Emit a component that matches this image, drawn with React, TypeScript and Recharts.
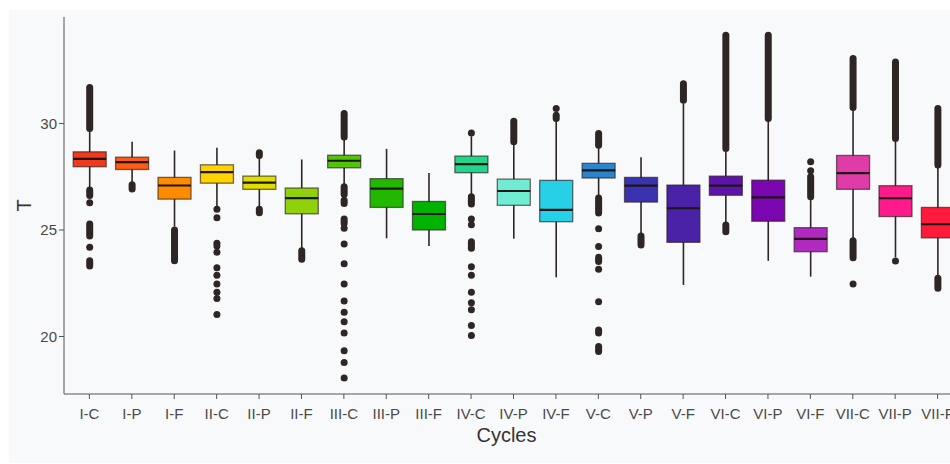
import React from 'react';
import { ComposedChart, Bar, XAxis, YAxis } from 'recharts';

const cycles = [
  'I-C', 'I-P', 'I-F', 'II-C', 'II-P', 'II-F', 'III-C', 'III-P', 'III-F', 'IV-C', 'IV-P',
  'IV-F', 'V-C', 'V-P', 'V-F', 'VI-C', 'VI-P', 'VI-F', 'VII-C', 'VII-P', 'VII-F',
];

const boxColors = [
  '#f2391b', '#ff5b12', '#ff8c00', '#ffd300', '#e0dd00', '#8fd10a', '#52c40a', '#22b800',
  '#00b300', '#20d68a', '#70ecd2', '#26d0e6', '#2a85cc', '#3a32b0', '#4a22a8', '#5e14aa',
  '#7a06b0', '#b02ac0', '#e03ca8', '#ff1a8c', '#ff1a3c',
];

const q1 = [
  27.97, 27.84, 26.45, 27.2, 26.91, 25.76, 27.92, 26.06, 25.0, 27.69, 26.16,
  25.39, 27.44, 26.31, 24.42, 26.63, 25.41, 23.98, 26.91, 25.63, 24.63,
];
const median = [
  28.34, 28.19, 27.09, 27.72, 27.22, 26.5, 28.25, 26.94, 25.75, 28.09, 26.83,
  25.94, 27.8, 27.08, 26.02, 27.08, 26.53, 24.58, 27.67, 26.49, 25.27,
];
const q3 = [
  28.67, 28.42, 27.47, 28.06, 27.53, 26.97, 28.51, 27.41, 26.34, 28.47, 27.39,
  27.33, 28.13, 27.47, 27.11, 27.53, 27.34, 25.11, 28.5, 27.08, 26.06,
];
const whiskerLow = [
  26.95, 27.2, 25.16, 26.1, 26.1, 24.14, 27.08, 24.61, 24.25, 26.64, 24.59,
  22.78, 26.56, 24.85, 22.42, 25.34, 23.55, 22.81, 24.56, 23.72, 22.81,
];
const whiskerHigh = [
  29.7, 29.14, 28.73, 28.86, 28.38, 28.31, 29.3, 28.81, 27.67, 29.4, 29.06,
  30.1, 28.95, 28.41, 30.94, 28.67, 30.15, 26.49, 30.62, 29.14, 27.97,
];

// single outliers
const outlierPoints: number[][] = [
  [26.28, 24.19],
  [],
  [],
  [25.97, 25.58, 24.38, 24.25, 23.96, 23.23, 22.88, 22.46, 22.08, 21.78, 21.03],
  [],
  [],
  [25.08, 24.34, 23.41, 22.46, 21.67, 21.14, 20.69, 20.16, 19.33, 18.78, 18.05],
  [],
  [],
  [29.55, 25.52, 25.25, 23.28, 22.88, 22.08, 21.58, 21.25, 20.52, 20.05],
  [],
  [30.7],
  [25.06, 24.22, 23.16, 21.63],
  [],
  [],
  [],
  [],
  [27.78, 28.2],
  [22.46],
  [23.55],
  [],
];

// dense outlier columns, [low, high]
const outlierRuns: [number, number][][] = [
  [[29.77, 31.69], [26.62, 26.88], [24.72, 25.28], [23.31, 23.56]],
  [[26.92, 27.12]],
  [[23.56, 25.0]],
  [],
  [[28.5, 28.63], [25.81, 25.97]],
  [[23.63, 24.03]],
  [[29.37, 30.47], [26.68, 27.03], [26.24, 26.4], [25.3, 25.52]],
  [],
  [],
  [[26.22, 26.56], [24.14, 24.45]],
  [[29.14, 30.11]],
  [[30.23, 30.39]],
  [[28.98, 29.53], [25.8, 26.5], [23.52, 23.72], [20.16, 20.31], [19.3, 19.53]],
  [[24.3, 24.72]],
  [[31.09, 31.87]],
  [[28.83, 34.14], [24.92, 25.23]],
  [[30.23, 34.14]],
  [[26.56, 27.5]],
  [[30.75, 33.05], [23.7, 24.5]],
  [[29.3, 32.89]],
  [[28.05, 30.7], [22.27, 22.74]],
];

const data = cycles.map((cycle, i) => {
  const all = [whiskerLow[i], whiskerHigh[i], ...outlierPoints[i], ...outlierRuns[i].flat()];
  return {
    cycle,
    span: [Math.min(...all), Math.max(...all)],
    q1: q1[i],
    median: median[i],
    q3: q3[i],
    lo: whiskerLow[i],
    hi: whiskerHigh[i],
    points: outlierPoints[i],
    runs: outlierRuns[i],
    color: boxColors[i],
  };
});

const INK = '#2e2525';
const FONT = '"Liberation Sans", Arial, Helvetica, sans-serif';

function BoxShape(props: any) {
  const { x, y, width, height, payload } = props;
  const top = Math.min(y, y + height);
  const h = Math.abs(height);
  const [lo, hi] = payload.span;
  // value -> pixel, anchored on the bar's scaled ends
  const py = (v: number) => top + (h * (hi - v)) / (hi - lo);
  const cx = x + width / 2;
  const r = 3.5;
  return (
    <g>
      <line x1={cx} x2={cx} y1={py(payload.hi)} y2={py(payload.lo)} stroke={INK} strokeWidth={1.6} />
      <rect
        x={x}
        y={py(payload.q3)}
        width={width}
        height={py(payload.q1) - py(payload.q3)}
        fill={payload.color}
        stroke="#2a1e1e"
        strokeOpacity={0.65}
        strokeWidth={1.3}
      />
      <line x1={x} x2={x + width} y1={py(payload.median)} y2={py(payload.median)} stroke="#1c1616" strokeWidth={2.2} />
      {payload.runs.map(([a, b]: [number, number], k: number) => (
        <rect key={`r${k}`} x={cx - r} width={r * 2} y={py(b) - r} height={py(a) - py(b) + 2 * r} rx={r} fill={INK} />
      ))}
      {payload.points.map((v: number, k: number) => (
        <circle key={`p${k}`} cx={cx} cy={py(v)} r={r} fill={INK} />
      ))}
    </g>
  );
}

export default function App() {
  return (
    <div style={{ position: 'fixed', left: 0, top: 0, width: 950, height: 464, overflow: 'hidden', background: '#ffffff' }}>
      <div style={{ position: 'absolute', left: 9, top: 10, width: 960, height: 453, background: '#f8f9fb' }} />
      <div style={{ position: 'absolute', left: 0, top: 0 }}>
        <ComposedChart width={1000} height={464} data={data} margin={{ top: 17, right: 37, bottom: 18, left: 24 }}>
          <XAxis
            dataKey="cycle"
            interval={0}
            padding={{ left: 4.2, right: 4.2 }}
            height={52}
            tickSize={5}
            tickMargin={9}
            stroke="#555"
            tick={{ fontSize: 15, fill: '#4a4a4a', fontFamily: FONT }}
            label={{
              content: ({ viewBox }: any) => (
                <text
                  x={viewBox.x + viewBox.width / 2 - 7}
                  y={viewBox.y + 48}
                  textAnchor="middle"
                  fontSize={20}
                  fill="#333"
                  fontFamily={FONT}
                >
                  Cycles
                </text>
              ),
            }}
          />
          <YAxis
            type="number"
            domain={[17.3, 35]}
            ticks={[20, 25, 30]}
            allowDataOverflow
            width={40}
            tickSize={5}
            tickMargin={2}
            stroke="#555"
            tick={{ fontSize: 15, fill: '#4a4a4a', fontFamily: FONT }}
            label={{
              content: ({ viewBox }: any) => {
                const lx = viewBox.x + 7;
                const ly = viewBox.y + viewBox.height / 2;
                return (
                  <text x={lx} y={ly} transform={`rotate(-90 ${lx} ${ly})`} textAnchor="middle" fontSize={20} fill="#333" fontFamily={FONT}>
                    T
                  </text>
                );
              },
            }}
          />
          <Bar dataKey="span" barSize={33} shape={<BoxShape />} isAnimationActive={false} />
        </ComposedChart>
      </div>
    </div>
  );
}
